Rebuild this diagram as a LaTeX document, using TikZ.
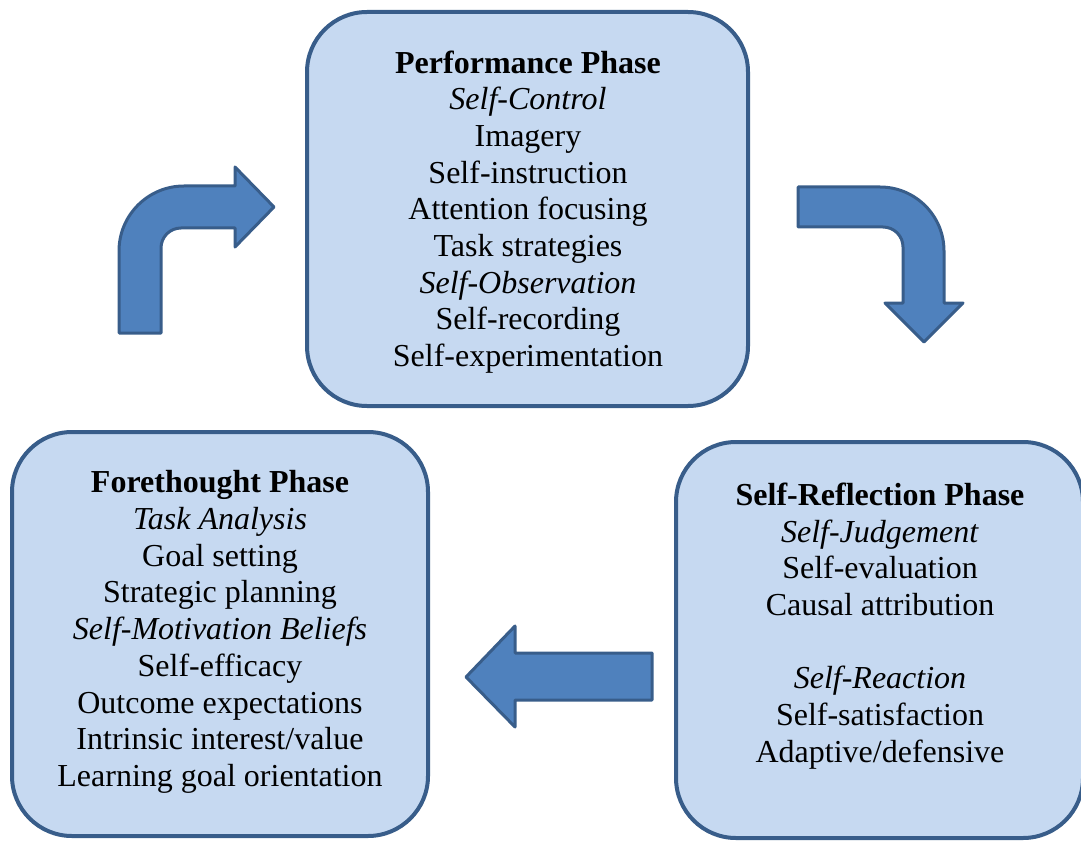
\documentclass[tikz,border=0pt]{standalone}
\usepackage{fontspec}
\setmainfont{Liberation Serif}
\usepackage{tikz}
\usetikzlibrary{positioning}

\definecolor{boxfill}{RGB}{198,217,241}
\definecolor{boxline}{RGB}{56,93,138}
\definecolor{arrowfill}{RGB}{79,129,189}

\tikzset{
  phasebox/.style={draw=boxline, fill=boxfill, line width=4pt, rounded corners=60pt, inner sep=0pt},
  phasetext/.style={align=center, inner sep=0pt, font=\fontsize{32}{36.7}\selectfont},
  blockarrow/.style={draw=boxline, fill=arrowfill, line width=3pt, line join=round}
}

\begin{document}
\begin{tikzpicture}[x=1pt, y=-1pt]
\useasboundingbox (0,0) rectangle (1081,842);

% the three phase boxes
\node[phasebox, minimum width=441pt, minimum height=394pt] (perf) at (527.5,209) {};
\node[phasebox, minimum width=416pt, minimum height=404pt] (fore) at (220,634) {};
\node[phasebox, minimum width=407pt, minimum height=396pt] (refl) at (879.5,640) {};

\node[phasetext] (perflist) at (528,212) {%
  \textbf{Performance Phase}\\
  \textit{Self-Control}\\
  Imagery\\
  Self-instruction\\
  Attention focusing\\
  Task strategies\\
  \textit{Self-Observation}\\
  Self-recording\\
  Self-experimentation};

\node[phasetext] (forelist) at (220,632) {%
  \textbf{Forethought Phase}\\
  \textit{Task Analysis}\\
  Goal setting\\
  Strategic planning\\
  \textit{Self-Motivation Beliefs}\\
  Self-efficacy\\
  Outcome expectations\\
  Intrinsic interest/value\\
  Learning goal orientation};

\node[phasetext] (refllist) at (880,626) {%
  \textbf{Self-Reflection Phase}\\
  \textit{Self-Judgement}\\
  Self-evaluation\\
  Causal attribution\\[36.7pt]
  \textit{Self-Reaction}\\
  Self-satisfaction\\
  Adaptive/defensive};

% bent arrow up into the performance phase
\draw[blockarrow] (119,333) -- (119,251)
  arc[start angle=180, end angle=270, radius=65] -- (235,186) -- (235,167)
  -- (274,207) -- (235,247) -- (235,228) -- (181,228)
  arc[start angle=270, end angle=180, radius=20] -- (161,333) -- cycle;

% bent arrow down to self-reflection
\draw[blockarrow] (798,187) -- (880,187)
  arc[start angle=270, end angle=360, radius=64] -- (944,303) -- (963,303)
  -- (924,342) -- (885,303) -- (903,303) -- (903,247)
  arc[start angle=0, end angle=-90, radius=20] -- (798,227) -- cycle;

% straight arrow back to forethought
\draw[blockarrow] (652,653) -- (515,653) -- (515,626) -- (466,677)
  -- (515,727) -- (515,700) -- (652,700) -- cycle;
\end{tikzpicture}
\end{document}
